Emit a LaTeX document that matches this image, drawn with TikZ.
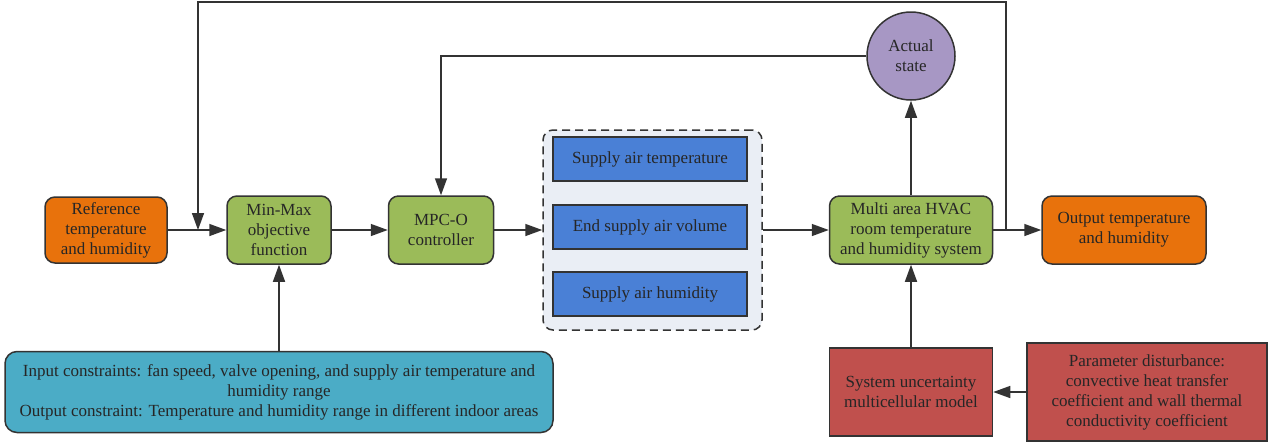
\documentclass[tikz,border=0pt]{standalone}
\usepackage{fontspec}
\setmainfont{Liberation Serif}
\usetikzlibrary{arrows.meta}

\definecolor{refor}{HTML}{E8720C}
\definecolor{objgreen}{HTML}{9BBB59}
\definecolor{ctrlblue}{HTML}{4A80D6}
\definecolor{consteal}{HTML}{4BACC6}
\definecolor{uncred}{HTML}{C0504D}
\definecolor{statepurple}{HTML}{A797C4}
\definecolor{groupbg}{HTML}{EAEEF5}

\tikzstyle{block}=[draw=black!80,line width=0.75pt,align=center,text=black!85,font=\fontsize{8.5}{10}\selectfont,inner sep=2pt]
\tikzstyle{io block}=[block,rounded corners=5pt,fill=refor]
\tikzstyle{green block}=[block,rounded corners=5pt,fill=objgreen]
\tikzstyle{var block}=[block,fill=ctrlblue,minimum width=97pt,minimum height=22pt]
\tikzstyle{cons block}=[block,rounded corners=6pt,fill=consteal]
\tikzstyle{dist block}=[block,fill=uncred]
\tikzstyle{state}=[block,circle,fill=statepurple,minimum size=44pt]
\tikzstyle{group}=[draw=black!80,line width=0.75pt,dash pattern=on 4pt off 2.5pt,rounded corners=5pt,fill=groupbg]
\tikzstyle{flow} = [draw,line width=0.75pt,black!80,-{Triangle[length=8.5pt,width=6pt]}]

\begin{document}
\begin{tikzpicture}[x=0.5pt,y=-0.5pt]
	\useasboundingbox (0,0) rectangle (1269,446);
	\node[io block,minimum width=61pt,minimum height=33pt] (ref) at (106,230) {Reference\\temperature\\and humidity};
	\node[green block,minimum width=52pt,minimum height=34pt] (minmax) at (279,230) {Min-Max\\objective\\function};
	\node[green block,minimum width=52.5pt,minimum height=34pt] (mpc) at (441,230) {MPC-O\\controller};
		\node[group,minimum width=109.5pt,minimum height=100pt] (grp) at (652.5,230) {};
		\node[var block] (sat) at (650,159) {Supply air temperature};
		\node[var block] (esv) at (650,227) {End supply air volume};
		\node[var block] (sah) at (650,294) {Supply air humidity};
	\node[green block,minimum width=81.5pt,minimum height=34pt] (hvac) at (911,230) {Multi area HVAC\\room temperature\\and humidity system};
	\node[io block,minimum width=82pt,minimum height=34pt] (out) at (1124,230) {Output temperature\\and humidity};
	\node[state] (st) at (911,56) {Actual\\state};
	\node[cons block,minimum width=274pt,minimum height=40.5pt] (cons) at (279,392) {Input constraints: fan speed, valve opening, and supply air temperature and\\humidity range\\Output constraint: Temperature and humidity range in different indoor areas};
	\node[dist block,minimum width=81.5pt,minimum height=44pt] (unc) at (911,392) {System uncertainty\\multicellular model};
	\node[dist block,minimum width=120pt,minimum height=49pt] (par) at (1147,392) {Parameter disturbance:\\convective heat transfer\\coefficient and wall thermal\\conductivity coefficient};
	\coordinate (split) at (1006,230);
	\coordinate (merge) at (198,230);
		% main forward path
		\foreach \source/ \dest in {ref/minmax, minmax/mpc, mpc/grp, grp/hvac, hvac/out, cons/minmax, unc/hvac, par/unc, hvac/st}
		\path[flow] (\source) to (\dest);
		% feedback loops
		\path[flow] (split) -- (split |- 0,2) -| (merge);
		\path[flow] (st.west) -| (mpc.north);
\end{tikzpicture}
\end{document}
